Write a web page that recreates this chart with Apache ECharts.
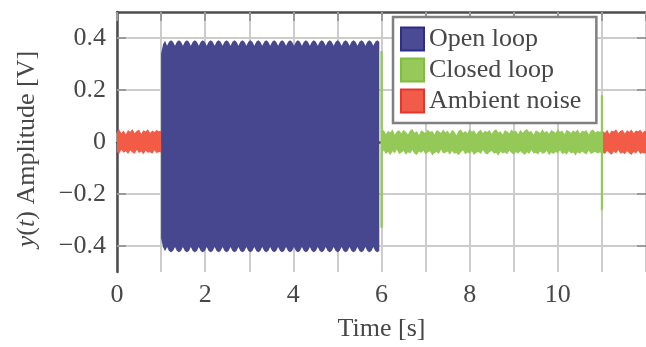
<!DOCTYPE html>
<html>
<head>
<meta charset="utf-8">
<script src="https://cdn.jsdelivr.net/npm/echarts@6/dist/echarts.min.js"></script>
<style>html,body{margin:0;padding:0;background:#fff}#c{width:646px;height:347px}</style>
</head>
<body>
<div id="c"></div>
<script>
// ---- data ----
const seriesNames = ['Open loop', 'Closed loop', 'Ambient noise'];
const xTickValues = [0, 2, 4, 6, 8, 10];
const xTickLabels = ['0', '2', '4', '6', '8', '10'];
const yTickValues = [-0.4, -0.2, 0, 0.2, 0.4];
const yTickLabels = ['\u22120.4', '\u22120.2', '0', '0.2', '0.4'];

// Ambient noise, 0–1 s (envelope, sampled every 0.05 s)
const ambientAStart = 0.0;
const ambientAStep = 0.05;
const ambientAUpper = [0.040,0.048,0.034,0.044,0.030,0.046,0.039,0.050,0.034,0.043,0.047,0.032,0.045,0.040,0.049,0.035,0.044,0.038,0.046,0.041,0.043];
const ambientALower = [-0.038,-0.044,-0.030,-0.041,-0.036,-0.046,-0.033,-0.040,-0.045,-0.031,-0.042,-0.037,-0.047,-0.034,-0.041,-0.039,-0.045,-0.032,-0.043,-0.038,-0.040];
// Ambient noise, 11–12 s
const ambientBStart = 11.02;
const ambientBStep = 0.05;
const ambientBUpper = [0.042,0.036,0.047,0.031,0.044,0.040,0.049,0.035,0.043,0.046,0.033,0.045,0.039,0.048,0.034,0.044,0.041,0.047,0.036,0.043,0.040];
const ambientBLower = [-0.041,-0.046,-0.034,-0.043,-0.049,-0.037,-0.044,-0.031,-0.045,-0.040,-0.047,-0.036,-0.043,-0.050,-0.038,-0.044,-0.033,-0.046,-0.041,-0.045,-0.039];

// Open loop, 1–6 s (envelope, sampled every 0.045 s)
const openStart = 1.0;
const openStep = 0.045;
const openUpper = [0.340,0.376,0.389,
 0.370,0.386,0.391,0.386, 0.370,0.386,0.391,0.386, 0.370,0.386,0.391,0.386, 0.370,0.386,0.391,0.386,
 0.370,0.386,0.391,0.386, 0.370,0.386,0.391,0.386, 0.370,0.386,0.391,0.386, 0.370,0.386,0.391,0.386,
 0.370,0.386,0.391,0.386, 0.370,0.386,0.391,0.386, 0.370,0.386,0.391,0.386, 0.370,0.386,0.391,0.386,
 0.370,0.386,0.391,0.386, 0.370,0.386,0.391,0.386, 0.370,0.386,0.391,0.386, 0.370,0.386,0.391,0.386,
 0.370,0.386,0.391,0.386, 0.370,0.386,0.391,0.386, 0.370,0.386,0.391,0.386, 0.370,0.386,0.391,0.386,
 0.370,0.386,0.391,0.386, 0.370,0.386,0.391,0.386, 0.370,0.386,0.391,0.386, 0.370,0.386,0.391,0.386,
 0.370,0.386,0.391,0.386, 0.370,0.386,0.391,0.386, 0.370,0.386,0.391,0.386];
const openLower = [-0.370,-0.405,-0.420,
 -0.404,-0.419,-0.424,-0.419, -0.404,-0.419,-0.424,-0.419, -0.404,-0.419,-0.424,-0.419, -0.404,-0.419,-0.424,-0.419,
 -0.404,-0.419,-0.424,-0.419, -0.404,-0.419,-0.424,-0.419, -0.404,-0.419,-0.424,-0.419, -0.404,-0.419,-0.424,-0.419,
 -0.404,-0.419,-0.424,-0.419, -0.404,-0.419,-0.424,-0.419, -0.404,-0.419,-0.424,-0.419, -0.404,-0.419,-0.424,-0.419,
 -0.404,-0.419,-0.424,-0.419, -0.404,-0.419,-0.424,-0.419, -0.404,-0.419,-0.424,-0.419, -0.404,-0.419,-0.424,-0.419,
 -0.404,-0.419,-0.424,-0.419, -0.404,-0.419,-0.424,-0.419, -0.404,-0.419,-0.424,-0.419, -0.404,-0.419,-0.424,-0.419,
 -0.404,-0.419,-0.424,-0.419, -0.404,-0.419,-0.424,-0.419, -0.404,-0.419,-0.424,-0.419, -0.404,-0.419,-0.424,-0.419,
 -0.404,-0.419,-0.424,-0.419, -0.404,-0.419,-0.424,-0.419, -0.404,-0.419,-0.424,-0.419];

// Closed loop, 6–11 s (envelope, sampled every 0.05 s)
const closedStart = 6.0;
const closedStep = 0.05;
const closedUpper = [0.040,0.046,0.031,0.043,0.037,0.049,0.028,0.041,0.045,0.034,
 0.047,0.039,0.030,0.044,0.050,0.036,0.042,0.027,0.045,0.040,
 0.033,0.048,0.038,0.043,0.029,0.046,0.041,0.035,0.049,0.037,
 0.044,0.031,0.047,0.040,0.026,0.043,0.048,0.036,0.042,0.034,
 0.050,0.039,0.045,0.030,0.041,0.047,0.035,0.043,0.038,0.046,
 0.032,0.044,0.049,0.037,0.041,0.029,0.046,0.040,0.034,0.048,
 0.039,0.043,0.031,0.047,0.036,0.044,0.050,0.038,0.042,0.028,
 0.045,0.040,0.035,0.049,0.037,0.043,0.032,0.046,0.041,0.036,
 0.048,0.039,0.044,0.030,0.047,0.042,0.035,0.045,0.038,0.049,
 0.033,0.043,0.040,0.046,0.029,0.044,0.048,0.037,0.042,0.039,
 0.041];
const closedLower = [-0.040,-0.033,-0.046,-0.038,-0.051,-0.036,-0.043,-0.029,-0.047,-0.041,
 -0.035,-0.049,-0.039,-0.044,-0.031,-0.045,-0.050,-0.037,-0.042,-0.034,
 -0.048,-0.040,-0.036,-0.052,-0.043,-0.038,-0.046,-0.030,-0.044,-0.041,
 -0.037,-0.049,-0.035,-0.045,-0.042,-0.051,-0.039,-0.033,-0.047,-0.040,
 -0.044,-0.036,-0.050,-0.041,-0.038,-0.046,-0.032,-0.043,-0.048,-0.039,
 -0.035,-0.045,-0.041,-0.053,-0.037,-0.044,-0.040,-0.047,-0.034,-0.042,
 -0.049,-0.038,-0.045,-0.036,-0.043,-0.050,-0.039,-0.046,-0.031,-0.044,
 -0.041,-0.048,-0.037,-0.045,-0.042,-0.035,-0.051,-0.040,-0.046,-0.038,
 -0.043,-0.033,-0.047,-0.041,-0.049,-0.036,-0.044,-0.040,-0.052,-0.039,
 -0.045,-0.037,-0.043,-0.048,-0.034,-0.046,-0.041,-0.038,-0.044,-0.040,
 -0.042];
// Closed-loop switching transients
const spike1Times = [5.975, 6.028];
const spike1Upper = [0.350, 0.350];
const spike1Lower = [-0.330, -0.330];
const spike2Times = [10.975, 11.025];
const spike2Upper = [0.180, 0.180];
const spike2Lower = [-0.262, -0.262];

// ---- chart ----
const FONT = 'Liberation Serif';
const FS = 26;
const TXT = '#474747';
const colors = {open: '#47478f', closed: '#95c957', ambient: '#f25b45'};

function regular(t0, dt, up, lo) {
  return {times: up.map((_, i) => t0 + i * dt), up: up, lo: lo};
}
function bandSeries(name, color, segs) {
  return {
    type: 'custom', name: name, silent: true, animation: false,
    data: segs.map(s => [s.times[0], 0]),
    renderItem: function (params, api) {
      const s = segs[params.dataIndex];
      const pts = [];
      for (let i = 0; i < s.times.length; i++) pts.push(api.coord([s.times[i], s.up[i]]));
      for (let i = s.times.length - 1; i >= 0; i--) pts.push(api.coord([s.times[i], s.lo[i]]));
      return {type: 'polygon', shape: {points: pts}, style: {fill: color}};
    }
  };
}
const tickSeries = {
  type: 'custom', silent: true, animation: false,
  data: yTickValues.map(v => [0, v]),
  renderItem: function (params, api) {
    const v = yTickValues[params.dataIndex];
    const a = api.coord([0, v]);
    const b = api.coord([12, v]);
    const st = {stroke: '#9a9a9a', lineWidth: 2};
    return {type: 'group', children: [
      {type: 'line', shape: {x1: a[0], y1: a[1], x2: a[0] + 9, y2: a[1]}, style: st},
      {type: 'line', shape: {x1: b[0], y1: b[1], x2: b[0] - 9, y2: b[1]}, style: st}
    ]};
  }
};

function lookup(vals, labels, v) {
  const i = vals.findIndex(t => Math.abs(t - v) < 1e-6);
  return i >= 0 ? labels[i] : '';
}

const axisLineStyle = {color: '#4d4d4d', width: 2.5};
const chart = echarts.init(document.getElementById('c'), null, {renderer: 'canvas'});
chart.setOption({
  animation: false,
  backgroundColor: '#fff',
  grid: {left: 117, right: -4, top: 12, bottom: 71, containLabel: false},
  legend: {
    orient: 'vertical', left: 393, top: 17,
    backgroundColor: '#fff', borderColor: '#808080', borderWidth: 2.5,
    padding: [9, 15, 9, 7],
    itemWidth: 23, itemHeight: 23, itemGap: 5,
    icon: 'rect',
    textStyle: {fontFamily: FONT, fontSize: FS, color: TXT},
    data: [
      {name: seriesNames[0], itemStyle: {color: '#4b4b93', borderColor: '#2d2d8a', borderWidth: 2}},
      {name: seriesNames[1], itemStyle: {color: '#96c95a', borderColor: '#80bc40', borderWidth: 2}},
      {name: seriesNames[2], itemStyle: {color: '#f05c49', borderColor: '#e8352c', borderWidth: 2}}
    ]
  },
  xAxis: [{
    type: 'value', min: 0, max: 12, interval: 1, position: 'bottom',
    name: 'Time [s]', nameLocation: 'middle', nameGap: 44,
    nameTextStyle: {fontFamily: FONT, fontSize: FS, color: TXT},
    axisLine: {show: true, lineStyle: axisLineStyle},
    axisTick: {show: true, inside: true, length: 9, lineStyle: {color: '#9a9a9a', width: 2}},
    axisLabel: {fontFamily: FONT, fontSize: FS, color: TXT, margin: 10,
      showMaxLabel: false,
      formatter: v => lookup(xTickValues, xTickLabels, v)},
    splitLine: {show: true, lineStyle: {color: '#cccccc', width: 2}}
  }, {
    type: 'value', min: 0, max: 12, interval: 1, position: 'top',
    axisLine: {show: true, lineStyle: axisLineStyle},
    axisTick: {show: true, inside: true, length: 9, lineStyle: {color: '#9a9a9a', width: 2}},
    axisLabel: {show: false},
    splitLine: {show: false}
  }],
  yAxis: {
    type: 'value', min: -0.5, max: 0.5, interval: 0.1,
    name: '{it|y}({it|t}) Amplitude [V]', nameLocation: 'middle', nameGap: 77,
    nameTextStyle: {fontFamily: FONT, fontSize: FS, color: TXT, padding: [0, 14, 0, 0],
      rich: {it: {fontFamily: FONT, fontSize: FS, color: TXT, fontStyle: 'italic'}}},
    axisLine: {show: true, lineStyle: axisLineStyle},
    axisTick: {show: false},
    axisLabel: {fontFamily: FONT, fontSize: FS, color: TXT, margin: 11,
      formatter: v => lookup(yTickValues, yTickLabels, v)},
    splitLine: {show: true, lineStyle: {color: ['rgba(0,0,0,0)', '#cccccc'], width: 2}}
  },
  series: [
    tickSeries,
    bandSeries(seriesNames[2], colors.ambient, [
      regular(ambientAStart, ambientAStep, ambientAUpper, ambientALower),
      regular(ambientBStart, ambientBStep, ambientBUpper, ambientBLower)
    ]),
    bandSeries(seriesNames[0], colors.open, [
      regular(openStart, openStep, openUpper, openLower)
    ]),
    bandSeries(seriesNames[1], colors.closed, [
      regular(closedStart, closedStep, closedUpper, closedLower),
      {times: spike1Times, up: spike1Upper, lo: spike1Lower},
      {times: spike2Times, up: spike2Upper, lo: spike2Lower}
    ])
  ]
});
</script>
</body>
</html>
